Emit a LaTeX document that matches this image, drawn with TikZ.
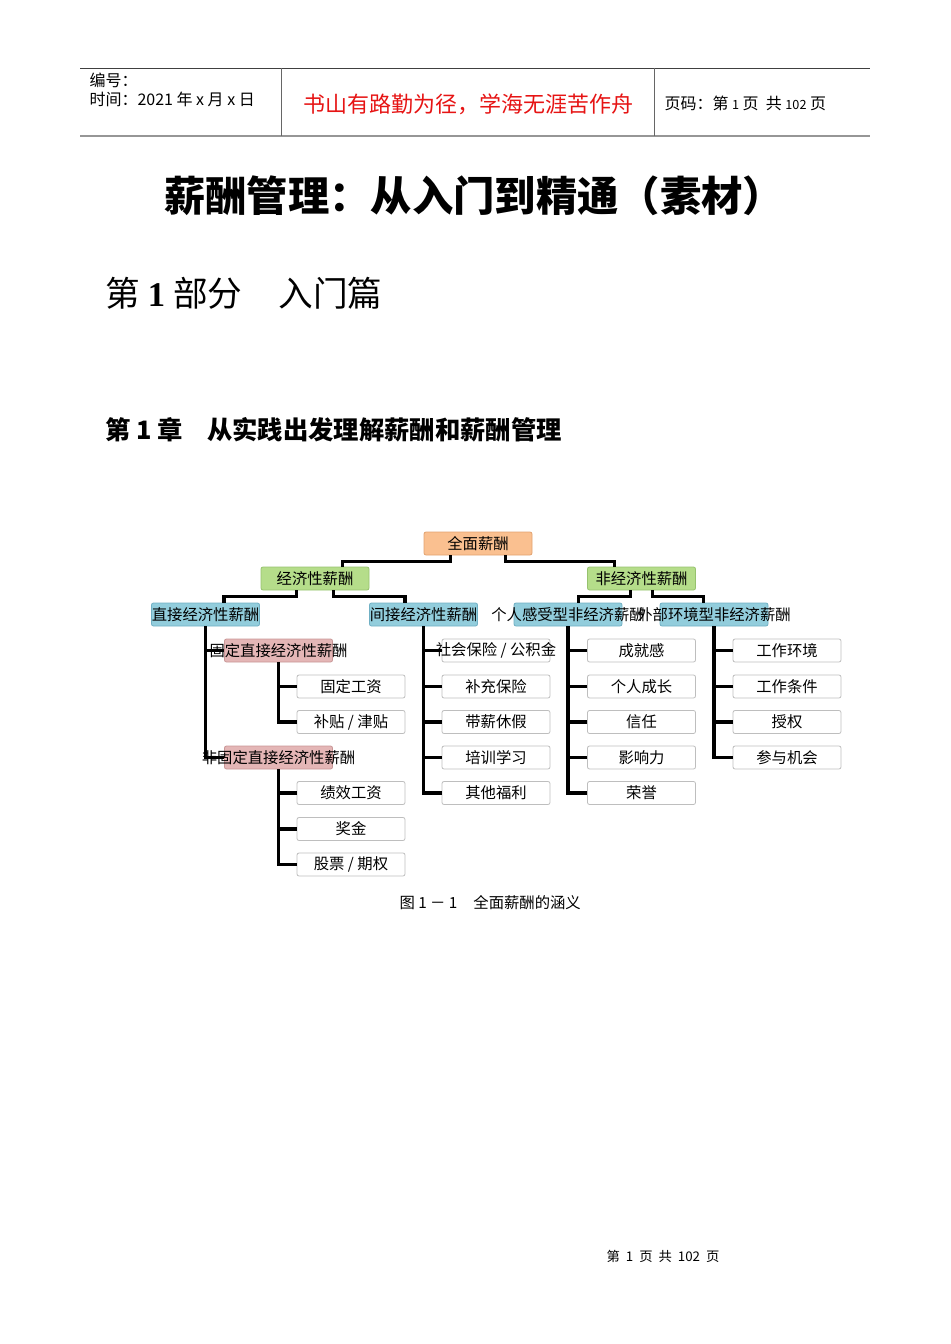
\documentclass[tikz,border=0pt]{standalone}
\usepackage{fontspec}
\setmainfont{Noto Sans CJK SC}
\newfontfamily\numserif{Liberation Serif}
\usetikzlibrary{calc}

\definecolor{zmfill}{RGB}{250,192,144}
\definecolor{zmline}{RGB}{226,162,112}
\definecolor{jjfill}{RGB}{181,221,138}
\definecolor{jjline}{RGB}{150,194,110}
\definecolor{lxfill}{RGB}{146,205,220}
\definecolor{lxline}{RGB}{112,176,196}
\definecolor{gdfill}{RGB}{228,182,182}
\definecolor{gdline}{RGB}{200,150,150}
\definecolor{itemline}{RGB}{190,190,190}
\definecolor{hdline}{RGB}{150,150,150}
\definecolor{mottored}{RGB}{230,20,20}

\tikzset{every picture/.style={line width=0.75pt}}
\tikzset{
  box/.style={rounded corners=1.5pt, inner sep=0pt, minimum width=81pt, minimum height=17.25pt,
    font=\fontsize{11.5pt}{12pt}\selectfont, line width=0.6pt,
    execute at begin node={\hbox to 0pt\bgroup\hss}, execute at end node={\hss\egroup}},
  rootbox/.style={box, fill=zmfill, draw=zmline},
  kindbox/.style={box, fill=jjfill, draw=jjline},
  typebox/.style={box, fill=lxfill, draw=lxline},
  fixbox/.style={box, fill=gdfill, draw=gdline},
  itembox/.style={box, fill=white, draw=itemline},
  conn/.style={line width=2.4pt},
  hdtext/.style={anchor=west, inner sep=0pt, font=\fontsize{12pt}{13pt}\selectfont}
}

\begin{document}
\begin{tikzpicture}[x=0.75pt,y=0.75pt,yscale=-1,xscale=1]
\useasboundingbox (0,0) rectangle (950,1344);

% Header
\draw [color=black!75, line width=0.6pt] (80,68) -- (870,68);
\draw [color=hdline, line width=1.6pt] (80,136) -- (870,136);
\draw [color=black!60, line width=0.6pt] (281,68) -- (281,136);
\draw [color=black!60, line width=0.6pt] (654,68) -- (654,136);

% Text Node
\node [hdtext] (bh) at (89,80) {编号：};
% Text Node
\node [hdtext] (sj) at (89,99) {时间：2021 年 x 月 x 日};
% Text Node
\node [inner sep=0pt, text=mottored, font=\fontsize{16.5pt}{18pt}\selectfont] (motto) at (468,104) {书山有路勤为径，学海无涯苦作舟};
% Text Node
\node [hdtext] (ym) at (664,103) {页码：第 {\fontsize{9.5pt}{10pt}\selectfont 1} 页\ \ 共 {\fontsize{9.5pt}{10pt}\selectfont 102} 页};

% Title
\node [inner sep=0pt, font=\fontsize{31pt}{33pt}\selectfont\bfseries] (title) at (474,196) {薪酬管理：从入门到精通（素材）};
% Text Node
\node [anchor=west, inner sep=0pt, font=\fontsize{26pt}{28pt}\selectfont] (part) at (105,293) {第 {\numserif\bfseries 1} 部分\hspace{27pt}入门篇};
% Text Node
\node [anchor=west, inner sep=0pt, font=\fontsize{19pt}{21pt}\selectfont\bfseries] (chap) at (105,430) {第 1 章\hspace{18pt}从实践出发理解薪酬和薪酬管理};

% Chart: top levels
\node [rootbox] (zm) at (478,543.5) {全面薪酬};
\node [kindbox] (jj) at (315,578.5) {经济性薪酬};
\node [kindbox] (fj) at (641.5,578.5) {非经济性薪酬};
\node [typebox] (zj) at (205.5,614.5) {直接经济性薪酬};
\node [typebox] (jjj) at (423.5,614.5) {间接经济性薪酬};
\node [typebox] (gr) at (568,614.5) {个人感受型非经济薪酬};
\node [typebox] (wb) at (714,614.5) {外部环境型非经济薪酬};
\node [fixbox] (gd) at (278.5,650.5) {固定直接经济性薪酬};
\node [fixbox] (fgd) at (278.5,757.5) {非固定直接经济性薪酬};

% Chart: direct items
\node [itembox] (gdgz) at (351,686.5) {固定工资};
\node [itembox] (btjt) at (351,722) {补贴 / 津贴};
\node [itembox] (jxgz) at (351,793) {绩效工资};
\node [itembox] (jjin) at (351,829) {奖金};
\node [itembox] (gpqq) at (351,864.5) {股票 / 期权};

% Chart: indirect items
\node [itembox] (shbx) at (496,650.5) {社会保险 / 公积金};
\node [itembox] (bcbx) at (496,686.5) {补充保险};
\node [itembox] (dxxj) at (496,722) {带薪休假};
\node [itembox] (pxxx) at (496,757.5) {培训学习};
\node [itembox] (qtfl) at (496,793) {其他福利};

% Chart: personal items
\node [itembox] (cjg) at (641.5,650.5) {成就感};
\node [itembox] (grcz) at (641.5,686.5) {个人成长};
\node [itembox] (xr) at (641.5,722) {信任};
\node [itembox] (yxl) at (641.5,757.5) {影响力};
\node [itembox] (ry) at (641.5,793) {荣誉};

% Chart: environment items
\node [itembox] (gzhj) at (787,650.5) {工作环境};
\node [itembox] (gztj) at (787,686.5) {工作条件};
\node [itembox] (sq) at (787,722) {授权};
\node [itembox] (cyjh) at (787,757.5) {参与机会};

% Connectors
\draw [conn] ($(zm.south west)!.25!(zm.south east)$) -- ++(0,6) -| ($(jj.north west)!.75!(jj.north east)$);
\draw [conn] ($(zm.south west)!.75!(zm.south east)$) -- ++(0,6) -| ($(fj.north west)!.25!(fj.north east)$);
\draw [conn] ($(jj.south west)!.33!(jj.south east)$) -- ++(0,6) -| ($(zj.north west)!.67!(zj.north east)$);
\draw [conn] ($(jj.south west)!.67!(jj.south east)$) -- ++(0,6) -| ($(jjj.north west)!.33!(jjj.north east)$);
\draw [conn] ($(fj.south west)!.4!(fj.south east)$) -- ++(0,6) -| ($(gr.north west)!.6!(gr.north east)$);
\draw [conn] ($(fj.south west)!.6!(fj.south east)$) -- ++(0,6) -| ($(wb.north west)!.4!(wb.north east)$);

\draw [conn] (zj.south) |- (gd.west);
\draw [conn] (zj.south) |- (fgd.west);
\draw [conn] (gd.south) |- (gdgz.west);
\draw [conn] (gd.south) |- (btjt.west);
\draw [conn] (fgd.south) |- (jxgz.west);
\draw [conn] (fgd.south) |- (jjin.west);
\draw [conn] (fgd.south) |- (gpqq.west);

\draw [conn] (jjj.south) |- (shbx.west);
\draw [conn] (jjj.south) |- (bcbx.west);
\draw [conn] (jjj.south) |- (dxxj.west);
\draw [conn] (jjj.south) |- (pxxx.west);
\draw [conn] (jjj.south) |- (qtfl.west);

\draw [conn] (gr.south) |- (cjg.west);
\draw [conn] (gr.south) |- (grcz.west);
\draw [conn] (gr.south) |- (xr.west);
\draw [conn] (gr.south) |- (yxl.west);
\draw [conn] (gr.south) |- (ry.west);

\draw [conn] (wb.south) |- (gzhj.west);
\draw [conn] (wb.south) |- (gztj.west);
\draw [conn] (wb.south) |- (sq.west);
\draw [conn] (wb.south) |- (cyjh.west);

% Caption
\node [anchor=west, inner sep=0pt, font=\fontsize{11.5pt}{12pt}\selectfont] (cap) at (399,903) {图 1 － 1\hspace{12pt}全面薪酬的涵义};

% Footer
\node [inner sep=0pt, font=\fontsize{10pt}{11pt}\selectfont] (foot) at (663,1256) {第\ \ 1\ \ 页\ \ 共\ \ 102\ \ 页};
\end{tikzpicture}
\end{document}
